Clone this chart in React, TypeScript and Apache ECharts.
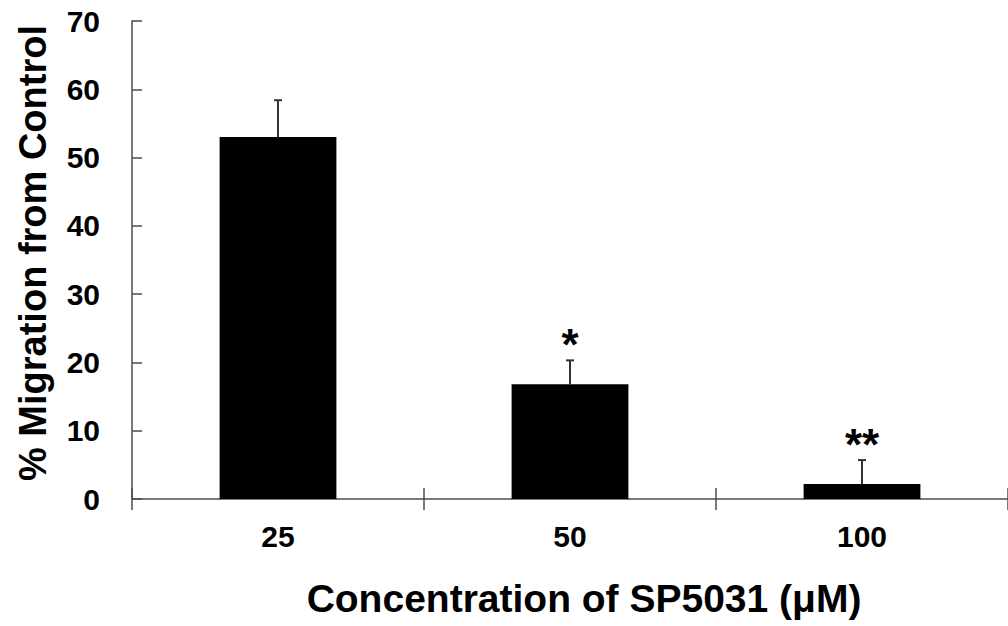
import React, { useEffect, useRef } from "react";
import * as echarts from "echarts";

const categories = ["25", "50", "100"];
const meanValues = [53.0, 16.8, 2.2];
const errorValues = [5.4, 3.5, 3.5];
const significance = ["", "*", "**"];
const yTicks = { min: 0, max: 70, interval: 10 };
const xTitle = "Concentration of SP5031 (\u03bcM)";
const yTitle = "% Migration from Control";

const FONT = "'Liberation Sans', Arial, sans-serif";
const AXIS_COLOR = "#4d4d4d";

export default function App() {
  const ref = useRef<HTMLDivElement>(null);

  useEffect(() => {
    if (!ref.current) return;
    const chart = echarts.init(ref.current, undefined, { renderer: "svg" });

    const errData = categories.map((c, i) => [i, meanValues[i], errorValues[i]]);

    chart.setOption({
      animation: false,
      backgroundColor: "#ffffff",
      grid: { left: 132, right: -3, top: 21, bottom: 127, containLabel: false },
      graphic: [
        {
          type: "text",
          x: 33,
          y: 253,
          rotation: Math.PI / 2,
          style: {
            text: yTitle,
            fill: "#000",
            fontSize: 38,
            fontWeight: "bold",
            fontFamily: FONT,
            align: "center",
            verticalAlign: "middle",
          },
        },
      ],
      xAxis: [
        {
          type: "category",
          data: categories,
          position: "bottom",
          axisLine: { show: true, lineStyle: { color: AXIS_COLOR, width: 1.5 } },
          axisTick: { show: true, inside: false, length: 11, lineStyle: { color: AXIS_COLOR, width: 1.5 } },
          axisLabel: { margin: 22, color: "#000", fontSize: 30, fontWeight: "bold", fontFamily: FONT },
          name: xTitle,
          nameLocation: "middle",
          nameGap: 80,
          nameTextStyle: {
            color: "#000",
            fontSize: 39,
            fontWeight: "bold",
            fontFamily: FONT,
            padding: [0, 0, 0, 28],
          },
          splitLine: { show: false },
        },
        {
          type: "category",
          data: categories,
          position: "bottom",
          axisLine: { show: false },
          axisTick: { show: true, inside: true, length: 11, lineStyle: { color: AXIS_COLOR, width: 1.5 } },
          axisLabel: { show: false },
          splitLine: { show: false },
        },
      ],
      yAxis: {
        type: "value",
        min: yTicks.min,
        max: yTicks.max,
        interval: yTicks.interval,
        axisLine: { show: true, lineStyle: { color: AXIS_COLOR, width: 1.5 } },
        axisTick: { show: true, inside: true, length: 10, lineStyle: { color: AXIS_COLOR, width: 1.5 } },
        axisLabel: { margin: 32, color: "#000", fontSize: 30, fontWeight: "bold", fontFamily: FONT },
        splitLine: { show: false },
      },
      series: [
        {
          type: "bar",
          xAxisIndex: 0,
          data: meanValues,
          barWidth: "40%",
          itemStyle: { color: "#000000" },
          z: 2,
        },
        {
          type: "custom",
          xAxisIndex: 0,
          data: errData,
          z: 3,
          renderItem: (params: any, api: any) => {
            const idx = api.value(0);
            const mean = api.value(1);
            const err = api.value(2);
            const sig = significance[params.dataIndex];
            const base = api.coord([idx, mean]);
            const top = api.coord([idx, mean + err]);
            const children: any[] = [
              {
                type: "line",
                shape: { x1: base[0], y1: base[1], x2: top[0], y2: top[1] },
                style: { stroke: "#333", lineWidth: 2 },
              },
              {
                type: "line",
                shape: { x1: top[0] - 4, y1: top[1], x2: top[0] + 4, y2: top[1] },
                style: { stroke: "#333", lineWidth: 2 },
              },
            ];
            if (sig) {
              children.push({
                type: "text",
                x: top[0],
                y: top[1] + 6,
                style: {
                  text: sig,
                  fill: "#000",
                  fontSize: 44,
                  fontWeight: "bold",
                  fontFamily: FONT,
                  align: "center",
                  verticalAlign: "bottom",
                },
              });
            }
            return { type: "group", children };
          },
        },
      ],
    });

    return () => chart.dispose();
  }, []);

  return (
    <div
      ref={ref}
      style={{ position: "absolute", left: 0, top: 0, width: 1008, height: 626, background: "#fff" }}
    />
  );
}
